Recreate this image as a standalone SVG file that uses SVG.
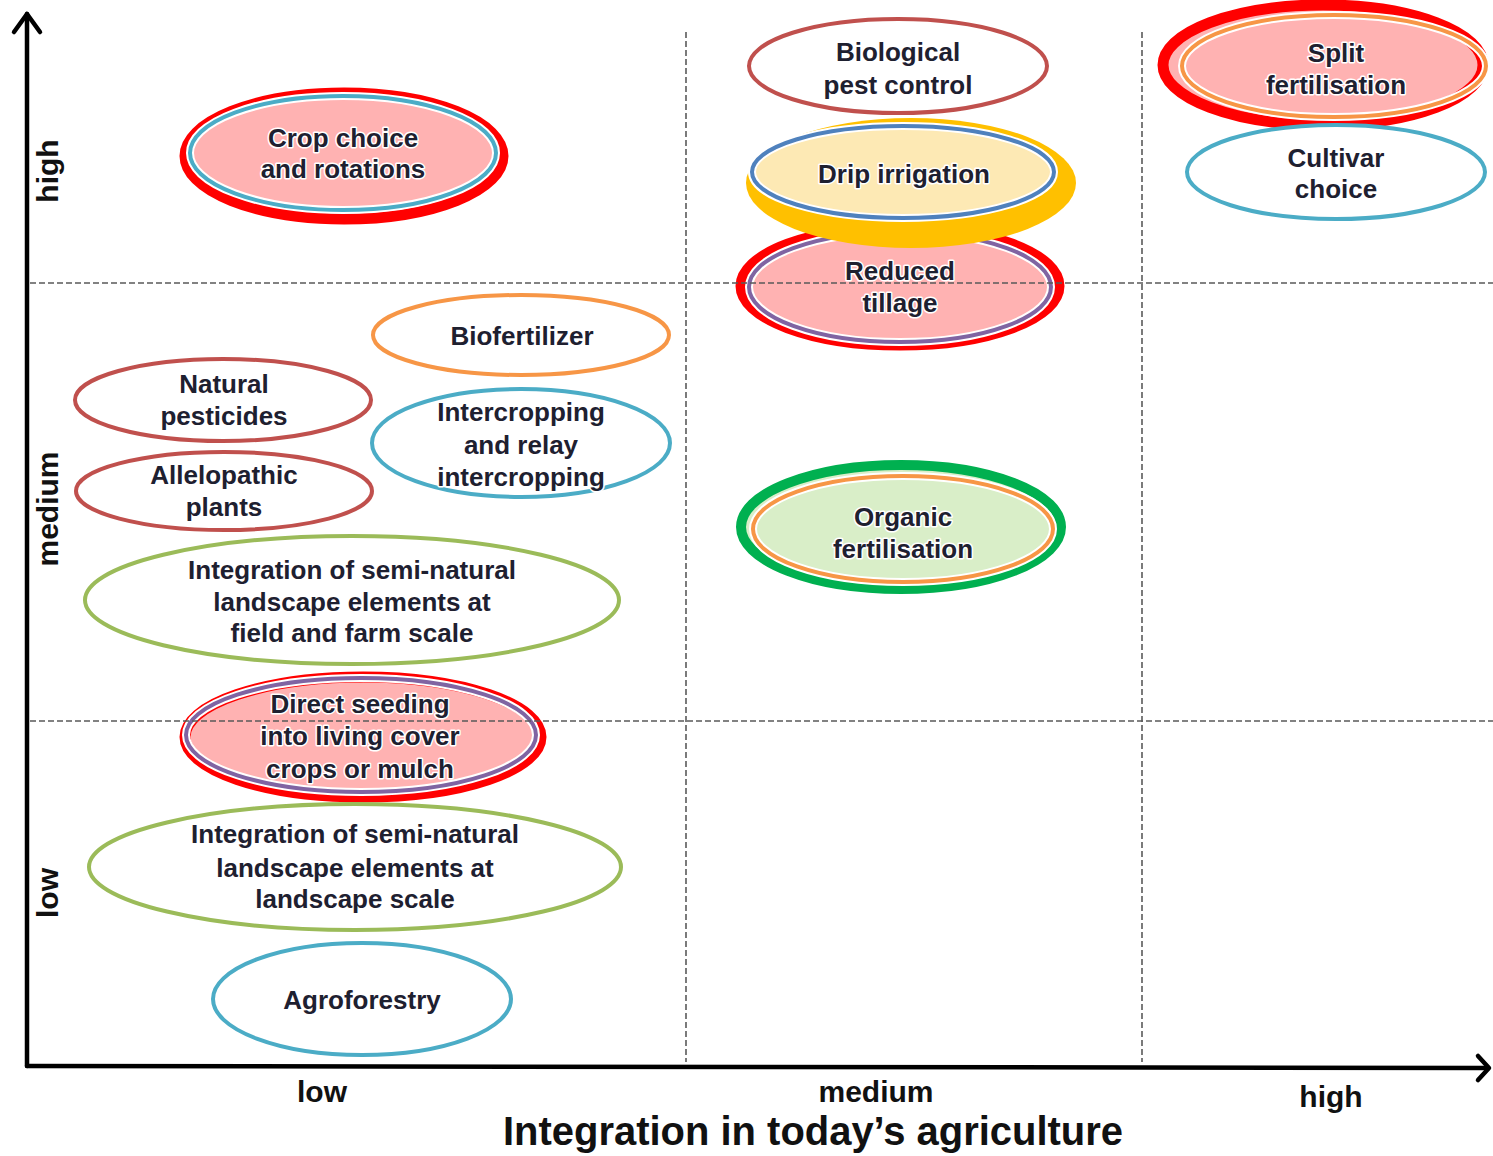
<svg xmlns="http://www.w3.org/2000/svg" width="1493" height="1156" viewBox="0 0 1493 1156">
<style>
.t{font-family:"Liberation Sans",Arial,sans-serif;font-weight:bold;font-size:26px;fill:#1e2030;text-anchor:middle;stroke:#ffffff;stroke-width:3px;paint-order:stroke;stroke-linejoin:round}
.ax{font-family:"Liberation Sans",Arial,sans-serif;font-weight:bold;font-size:30px;fill:#111;text-anchor:middle}
.title{font-size:40px}
.grid{stroke:#5a5a5a;stroke-width:1.6;stroke-dasharray:6 3;fill:none}
.axis{stroke:#000;stroke-width:4.5;fill:none;stroke-linecap:round;stroke-linejoin:round}
.red{stroke:#ff0000;stroke-width:11;fill:#ffb2b2}
.halo{stroke:#ffffff;stroke-width:8;fill:none}
.w{fill:#ffffff;stroke-width:4}
</style>
<g id="axes">
<line class="axis" x1="27" y1="1066" x2="27" y2="14"/>
<polyline class="axis" points="14,32 27,14 40,32"/>
<line class="axis" x1="27" y1="1066" x2="1488" y2="1068" stroke-width="5"/>
<polyline class="axis" points="1478,1056 1489,1068 1478,1080"/>
<text class="ax" transform="translate(58,171) rotate(-90)">high</text>
<text class="ax" transform="translate(58,509) rotate(-90)">medium</text>
<text class="ax" transform="translate(58,893) rotate(-90)">low</text>
<text class="ax" x="322" y="1102">low</text>
<text class="ax" x="876" y="1102">medium</text>
<text class="ax" x="1331" y="1107">high</text>
<text class="ax title" x="813" y="1145" textLength="620" lengthAdjust="spacingAndGlyphs">Integration in today’s agriculture</text>
</g>
<g id="crop-choice">
<ellipse class="red" cx="344" cy="156" rx="159" ry="63"/>
<ellipse class="halo" cx="343" cy="153" rx="153" ry="57"/>
<ellipse cx="343" cy="153" rx="153" ry="57" fill="none" stroke="#4bacc6" stroke-width="4"/>
<text class="t" x="343" y="147">Crop choice</text>
<text class="t" x="343" y="178">and rotations</text>
</g>
<g id="biological-pest-control">
<ellipse class="w" cx="898" cy="66" rx="149" ry="47" stroke="#c0504d"/>
<text class="t" x="898" y="61">Biological</text>
<text class="t" x="898" y="94">pest control</text>
</g>
<g id="reduced-tillage">
<ellipse class="red" cx="900" cy="286" rx="159" ry="59"/>
<ellipse class="halo" cx="900" cy="287" rx="151" ry="55"/>
<ellipse cx="900" cy="287" rx="151" ry="55" fill="none" stroke="#8064a2" stroke-width="4"/>
<text class="t" x="900" y="280">Reduced</text>
<text class="t" x="900" y="312">tillage</text>
</g>
<g id="drip-irrigation">
<ellipse cx="911" cy="183" rx="165" ry="65" fill="#ffc000"/>
<ellipse cx="903" cy="172" rx="151" ry="46" fill="#fde9b4" stroke="#ffffff" stroke-width="8"/>
<ellipse cx="903" cy="172" rx="151" ry="46" fill="none" stroke="#4f81bd" stroke-width="4"/>
<text class="t" x="904" y="183">Drip irrigation</text>
</g>
<g id="split-fertilisation">
<ellipse class="red" cx="1323" cy="65" rx="160" ry="60"/>
<ellipse class="halo" cx="1334" cy="66" rx="152" ry="51"/>
<ellipse cx="1334" cy="66" rx="152" ry="51" fill="none" stroke="#f79646" stroke-width="4"/>
<text class="t" x="1336" y="62">Split</text>
<text class="t" x="1336" y="94">fertilisation</text>
</g>
<g id="cultivar-choice">
<ellipse class="w" cx="1336" cy="172" rx="149" ry="47" stroke="#4bacc6"/>
<text class="t" x="1336" y="167">Cultivar</text>
<text class="t" x="1336" y="198">choice</text>
</g>
<g id="biofertilizer">
<ellipse class="w" cx="521" cy="335" rx="148" ry="40" stroke="#f79646"/>
<text class="t" x="522" y="345">Biofertilizer</text>
</g>
<g id="natural-pesticides">
<ellipse class="w" cx="223" cy="400" rx="148" ry="41" stroke="#c0504d"/>
<text class="t" x="224" y="393">Natural</text>
<text class="t" x="224" y="425">pesticides</text>
</g>
<g id="intercropping">
<ellipse class="w" cx="521" cy="443" rx="149" ry="54" stroke="#4bacc6"/>
<text class="t" x="521" y="421">Intercropping</text>
<text class="t" x="521" y="454">and relay</text>
<text class="t" x="521" y="486">intercropping</text>
</g>
<g id="allelopathic-plants">
<ellipse class="w" cx="224" cy="491" rx="148" ry="39" stroke="#c0504d"/>
<text class="t" x="224" y="484">Allelopathic</text>
<text class="t" x="224" y="516">plants</text>
</g>
<g id="semi-natural-field">
<ellipse class="w" cx="352" cy="600" rx="267" ry="64" stroke="#9bbb59"/>
<text class="t" x="352" y="579">Integration of semi-natural</text>
<text class="t" x="352" y="611">landscape elements at</text>
<text class="t" x="352" y="642">field and farm scale</text>
</g>
<g id="direct-seeding">
<ellipse class="red" cx="363" cy="737" rx="178" ry="60"/>
<ellipse class="halo" cx="361" cy="735" rx="175" ry="57"/>
<ellipse cx="361" cy="735" rx="175" ry="57" fill="none" stroke="#8064a2" stroke-width="4"/>
<text class="t" x="360" y="713">Direct seeding</text>
<text class="t" x="360" y="745">into living cover</text>
<text class="t" x="360" y="778">crops or mulch</text>
</g>
<g id="semi-natural-landscape">
<ellipse class="w" cx="355" cy="867" rx="266" ry="63" stroke="#9bbb59"/>
<text class="t" x="355" y="843">Integration of semi-natural</text>
<text class="t" x="355" y="877">landscape elements at</text>
<text class="t" x="355" y="908">landscape scale</text>
</g>
<g id="agroforestry">
<ellipse class="w" cx="362" cy="999" rx="149" ry="56" stroke="#4bacc6"/>
<text class="t" x="362" y="1009">Agroforestry</text>
</g>
<g id="organic-fertilisation">
<ellipse cx="901" cy="527" rx="160" ry="62" fill="#d9eec8" stroke="#00b050" stroke-width="10"/>
<ellipse class="halo" cx="903" cy="529" rx="150" ry="53"/>
<ellipse cx="903" cy="529" rx="150" ry="53" fill="none" stroke="#f79646" stroke-width="4"/>
<text class="t" x="903" y="526">Organic</text>
<text class="t" x="903" y="558">fertilisation</text>
</g>
<g id="grid">
<line class="grid" x1="686" y1="32" x2="686" y2="1062"/>
<line class="grid" x1="1142" y1="32" x2="1142" y2="1062"/>
<line class="grid" x1="30" y1="283" x2="1493" y2="283"/>
<line class="grid" x1="30" y1="721" x2="1493" y2="721"/>
</g>
</svg>
